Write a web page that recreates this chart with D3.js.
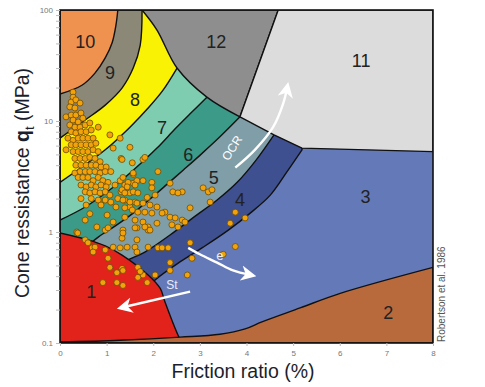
<!DOCTYPE html>
<html>
<head>
<meta charset="utf-8">
<script src="https://cdn.jsdelivr.net/npm/d3@7"></script>
<style>
  body { margin: 0; background: #fff; }
  svg { display: block; font-family: "Liberation Sans", Arial, sans-serif; }
</style>
</head>
<body>
<div id="chart"></div>
<script>
// Robertson et al. 1986 soil behaviour type chart (Rf % vs qt MPa)
const rfTicks = [0, 1, 2, 3, 4, 5, 6, 7, 8];
const qtTicks = [0.1, 1, 10, 100];
const qtTickLabels = ["0.1", "1", "10", "100"];

// zone boundaries, [Rf, qt] pairs
const b10 = [[1.24,100],[1.20,73],[1.12,51],[0.97,37],[0.75,27],[0.47,21],[0,17.5]];
const b9  = [[1.76,100],[1.72,48],[1.57,30],[1.33,19.8],[0.97,13.9],[0.54,10.2],[0,7.0]];
const b8  = [[2.51,30],[2.21,19],[1.89,13.1],[1.50,8.8],[0.97,5.5],[0.47,3.85],[0,2.8]];
const b7  = [[3.15,16.4],[2.79,11.6],[2.47,8.5],[2.08,5.7],[1.57,3.6],[1.07,2.4],[0.54,1.68],[0,1.28]];
const b6  = [[3.86,10.9],[3.43,7.2],[3.00,4.9],[2.64,3.6],[2.30,2.7],[1.93,1.98],[1.57,1.48],[1.18,1.13],[0.82,0.90],[0.43,0.66]];
const b5  = [[4.59,7.5],[4.18,4.3],[3.80,2.8],[3.37,1.94],[2.90,1.39],[2.36,0.94],[1.82,0.66],[1.39,0.54],[1.07,0.41]];
const b4  = [[5.19,5.5],[4.87,3.5],[4.51,2.15],[4.08,1.48],[3.61,1.04],[3.07,0.73],[2.58,0.54],[2.04,0.37],[1.72,0.27]];
const arc12 = [[1.76,100],[2.08,66],[2.51,30],[3.15,16.4],[3.86,10.9]];
const top12 = [[1.76,100],[4.68,100],[3.86,10.9]];
const zone11 = [[4.68,100],[8,100],[8,5.3],[5.19,5.7],[4.59,7.5],[3.86,10.9]];
const edge1 = [[0,0.98],[0.60,0.85],[0.97,0.75],[1.33,0.62],[1.89,0.41],[2.15,0.31],[2.25,0.235],[2.53,0.118],[2.62,0.1]];
const edge2 = [[0,0.102],[1.29,0.106],[2.58,0.113],[3.43,0.12],[3.97,0.134],[4.33,0.155],[5.15,0.207],[6.01,0.28],[8,0.48]];

const zoneColors = {
  1: "#e2231c", 2: "#b86a3c", 3: "#6479b7", 4: "#3e5090", 5: "#7f9ea7", 6: "#3c9a88",
  7: "#7ecdb1", 8: "#faf205", 9: "#8c8878", 10: "#f0924f", 11: "#dcdcdc", 12: "#8e8e8e"
};
const zoneLabels = [
  ["10",0.54,51.5],["9",1.07,27],["8",1.61,15.5],["7",2.19,8.65],["6",2.75,4.9],["5",3.30,3.07],
  ["4",3.86,1.94],["12",3.35,51.5],["11",6.46,34.7],["3",6.55,2.07],["2",7.04,0.186],["1",0.67,0.29]
];

// CPT readings
const samples = [
[0.28,18.2],[0.28,16.4],[0.24,14.8],[0.34,15.5],[0.43,14.5],[0.21,13.4],[0.32,13.1],
[0.13,10.9],[0.24,11.3],[0.34,11.3],[0.45,11.8],[0.28,10.2],[0.39,9.8],[0.49,10.6],
[0.21,9.2],[0.32,8.8],[0.43,8.8],[0.54,9.2],[0.64,9.6],[0.82,8.8],
[0.24,8.0],[0.34,7.8],[0.45,8.0],[0.56,8.0],[0.67,8.3],[1.07,7.5],[1.29,7.0],
[0.17,7.0],[0.28,6.7],[0.39,7.0],[0.49,7.0],[0.60,7.0],[0.71,7.0],
[0.13,5.5],[0.24,6.1],[0.34,6.1],[0.45,6.1],[0.56,6.1],[0.67,6.1],[0.77,6.3],[1.14,5.7],[1.31,4.6],[1.50,5.8],
[0.28,5.3],[0.39,5.3],[0.49,5.3],[0.60,5.3],[0.71,5.5],[0.82,5.3],
[0.32,4.6],[0.43,4.6],[0.54,4.6],[0.64,4.7],[0.75,4.6],[0.86,4.3],
[0.34,4.0],[0.45,4.0],[0.56,4.0],[0.67,4.0],[0.77,4.0],[0.88,3.85],[0.99,3.85],
[0.32,3.4],[0.43,3.5],[0.54,3.5],[0.64,3.5],[0.75,3.5],[0.86,3.4],[0.97,3.5],[1.09,3.5],[1.57,3.3],
[0.39,3.1],[0.49,3.1],[0.60,3.1],[0.71,2.9],[0.82,3.1],[0.92,2.9],[1.03,2.8],[1.29,2.9],[1.39,2.65],[1.57,2.75],
[0.45,2.65],[0.56,2.55],[0.67,2.65],[0.77,2.55],[0.88,2.65],[0.99,2.55],[1.18,2.65],
[0.54,2.3],[0.64,2.25],[0.75,2.3],[0.86,2.25],[0.97,2.3],[1.07,2.15],[1.31,2.3],[1.50,2.25],
[0.45,2.0],[0.67,2.0],[0.82,1.94],[0.97,1.94],[1.09,1.86],[1.24,2.0],[1.39,1.94],[1.61,1.86],
[0.56,1.75],[0.88,1.75],[1.20,1.68],[1.50,1.68],
[1.33,4.5],[1.55,4.2],[1.78,4.5],[1.82,4.7],[2.10,3.5],[2.36,2.75],[1.57,3.4],
[1.35,3.1],[1.46,2.8],[1.65,2.9],[1.78,2.9],[1.97,2.8],[1.44,2.55],[1.61,2.65],[1.97,2.5],
[2.42,2.3],[2.62,2.3],[2.53,2.25],[3.07,2.5],[3.18,2.3],[3.26,2.4],[3.22,1.86],
[1.33,2.4],[1.39,2.25],[1.57,2.3],[1.67,2.25],[1.87,2.05],[2.04,2.15],
[1.35,1.94],[1.50,1.86],[1.65,1.82],[1.78,1.82],[1.93,1.75],[2.08,1.68],[2.25,1.51],[2.79,1.65],
[1.39,1.65],[1.55,1.58],[1.67,1.51],[1.82,1.51],[1.97,1.48],[2.19,1.48],[2.36,1.36],[2.47,1.34],[2.62,1.28],[2.68,1.23],
[1.39,1.36],[1.61,1.28],[1.78,1.23],[1.89,1.11],[2.08,1.2],[2.40,1.16],[2.53,1.11],
[1.35,1.04],[1.65,1.09],[1.89,1.04],[1.33,0.88],[1.65,0.85],[2.79,0.80],
[1.44,0.73],[1.61,0.73],[1.89,0.73],[2.10,0.72],[2.19,0.72],[2.32,0.72],[1.65,0.66],[2.83,0.58],[2.36,0.53],
[1.33,0.47],[1.67,0.48],[2.36,0.45],[1.78,0.41],[2.04,0.41],[2.73,0.41],
[3.76,1.51],[3.65,1.2],[3.97,1.34],[3.76,0.74],[3.50,0.63],
[0.36,1.0],[0.97,1.04],[1.03,1.09],[1.35,0.98],[1.61,1.09],[1.82,1.11],[1.93,1.04],
[0.54,0.85],[0.60,0.80],[0.69,0.72],[0.75,0.73],[0.71,0.66],[0.97,0.69],[1.14,0.73],[1.29,0.72],
[1.03,0.58],[1.07,0.48],[1.35,0.45],[1.22,0.43],[1.72,0.44],[1.67,0.39],[1.87,0.35],[0.92,0.35],[1.22,0.35],[1.35,0.33],
[0.64,1.46],[1.01,1.42],[1.14,1.23],[0.79,1.11],[0.54,1.28],[0.38,0.98]
];

// trend arrows
const ocrArrow = [[3.76,3.8],[4.18,5.5],[4.57,8.8],[4.79,14.5],[4.87,19.8]];
const eArrow = [[2.75,0.72],[3.0,0.63],[3.37,0.53],[3.71,0.45],[4.08,0.41]];
const stArrow = [[2.79,0.29],[1.35,0.21]];

const width = 485, height = 387;
const x = d3.scaleLinear().domain([0, 8]).range([60, 433]);
const y = d3.scaleLog().domain([0.1, 100]).range([343, 10]);

const svg = d3.select("#chart").append("svg")
  .attr("width", width)
  .attr("height", height);

svg.append("defs").append("clipPath").attr("id", "plot")
  .append("rect").attr("x", 60).attr("y", 10).attr("width", 373).attr("height", 333);

const head = svg.select("defs").append("marker")
  .attr("id", "head")
  .attr("viewBox", "0 0 10 10")
  .attr("refX", 6).attr("refY", 5)
  .attr("markerWidth", 6.5).attr("markerHeight", 6.5)
  .attr("orient", "auto");
head.append("path").attr("d", "M0,0 L10,5 L0,10 L3,5 Z").attr("fill", "#fff");

const smooth = d3.line().x(d => x(d[0])).y(d => y(d[1])).curve(d3.curveCatmullRom.alpha(0.5));
const pt = p => x(p[0]) + "," + y(p[1]);

// region to the upper-left of a boundary curve
function bandPath(curve) {
  const first = curve[0], last = curve[curve.length - 1];
  let d = smooth(curve);
  if (last[0] > 0) d += "L" + pt([0, 0.1]);
  d += "L" + pt([0, 100]) + "L" + pt([first[0], 100]) + "Z";
  return d;
}

const zones = svg.append("g").attr("clip-path", "url(#plot)")
  .attr("stroke", "#111").attr("stroke-width", 1.4).attr("stroke-linejoin", "round");

zones.append("rect").attr("x", 60).attr("y", 10).attr("width", 373).attr("height", 333)
  .attr("fill", zoneColors[3]).attr("stroke", "none");

const bands = [[b4, 4], [b5, 5], [b6, 6], [b7, 7], [b8, 8], [b9, 9], [b10, 10]];
zones.selectAll("path.band").data(bands).join("path")
  .attr("class", "band")
  .attr("d", d => bandPath(d[0]))
  .attr("fill", d => zoneColors[d[1]]);

// zone 12
zones.append("path")
  .attr("d", "M" + top12.map(pt).join("L") + smooth(arc12.slice().reverse()).replace(/^M/, "L") + "Z")
  .attr("fill", zoneColors[12]);

// zone 11
zones.append("path")
  .attr("d", "M" + zone11.map(pt).join("L") + "Z")
  .attr("fill", zoneColors[11]);

// zone 1
zones.append("path")
  .attr("d", smooth(edge1) + "L" + pt([0, 0.1]) + "Z")
  .attr("fill", zoneColors[1]);

// zone 2
zones.append("path")
  .attr("d", smooth(edge2) + "L" + pt([8, 0.1]) + "L" + pt([0, 0.1]) + "Z")
  .attr("fill", zoneColors[2]);

// data points
svg.append("g").attr("clip-path", "url(#plot)")
  .selectAll("circle").data(samples).join("circle")
  .attr("cx", d => x(d[0]))
  .attr("cy", d => y(d[1]))
  .attr("r", 3)
  .attr("fill", "#f2a30c")
  .attr("stroke", "#6e4c05")
  .attr("stroke-width", 0.8);

// arrows
const arrows = svg.append("g").attr("fill", "none").attr("stroke", "#fff").attr("stroke-width", 2.4);
[ocrArrow, eArrow, stArrow].forEach(a => {
  arrows.append("path").attr("d", smooth(a)).attr("marker-end", "url(#head)");
});

svg.append("text")
  .attr("transform", `translate(${x(3.69)},${y(5.7)}) rotate(-57)`)
  .attr("text-anchor", "middle").attr("dominant-baseline", "central")
  .attr("fill", "#fff").attr("font-size", 12).text("OCR");
svg.append("text")
  .attr("x", x(3.43)).attr("y", y(0.62))
  .attr("text-anchor", "middle").attr("dominant-baseline", "central")
  .attr("fill", "#e8ecf8").attr("font-size", 13).text("e");
svg.append("text")
  .attr("x", x(2.40)).attr("y", y(0.33))
  .attr("text-anchor", "middle").attr("dominant-baseline", "central")
  .attr("fill", "#e8ecf8").attr("font-size", 12).text("St");

// zone numbers
svg.append("g").selectAll("text").data(zoneLabels).join("text")
  .attr("x", d => x(d[1]))
  .attr("y", d => y(d[2]))
  .attr("text-anchor", "middle")
  .attr("dominant-baseline", "central")
  .attr("font-size", 18)
  .attr("fill", "#222")
  .text(d => d[0]);

// frame
svg.append("rect").attr("x", 60).attr("y", 10).attr("width", 373).attr("height", 333)
  .attr("fill", "none").attr("stroke", "#111").attr("stroke-width", 1.6);

// axes
const xAxis = svg.append("g").attr("transform", "translate(0,343)")
  .call(d3.axisBottom(x).tickValues(rfTicks).tickSize(3).tickFormat(d3.format("d")));
const minor = [];
[0.1, 1, 10].forEach(b => { for (let k = 2; k <= 9; k++) minor.push(b * k); });
const yAxis = svg.append("g").attr("transform", "translate(60,0)")
  .call(d3.axisLeft(y).tickValues(qtTicks.concat(minor)).tickSize(4)
    .tickFormat(d => { const i = qtTicks.indexOf(d); return i < 0 ? "" : qtTickLabels[i]; }));
[xAxis, yAxis].forEach(g => {
  g.select(".domain").remove();
  g.selectAll("line").attr("stroke", "#bbb");
  g.selectAll("text").attr("fill", "#777").attr("font-size", 8);
});
xAxis.selectAll("text").attr("dy", "0.9em");

svg.append("text")
  .attr("x", 243).attr("y", 378)
  .attr("text-anchor", "middle")
  .attr("font-size", 19.5)
  .attr("fill", "#1b1f2c")
  .text("Friction ratio (%)");

const yl = svg.append("text")
  .attr("transform", "translate(29,183) rotate(-90)")
  .attr("text-anchor", "middle")
  .attr("font-size", 19.5)
  .attr("fill", "#1b1f2c");
yl.append("tspan").text("Cone ressistance ");
yl.append("tspan").attr("font-weight", "bold").text("q");
yl.append("tspan").attr("font-size", 13).attr("dy", 5).text("t");
yl.append("tspan").attr("dy", -5).text(" (MPa)");

svg.append("text")
  .attr("transform", "translate(445,342) rotate(-90)")
  .attr("font-size", 10)
  .attr("fill", "#555")
  .text("Robertson et al. 1986");
</script>
</body>
</html>
